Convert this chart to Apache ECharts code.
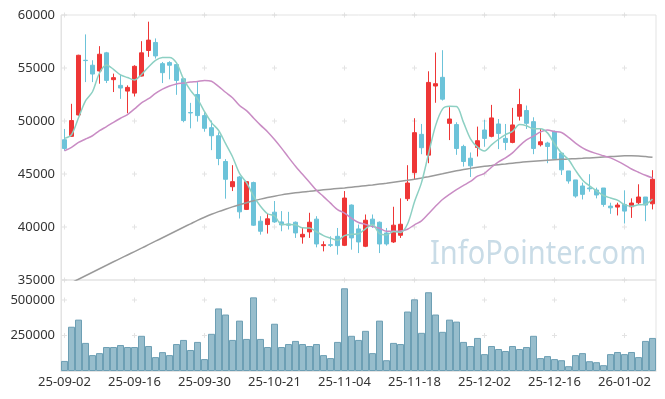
<!DOCTYPE html>
<html>
<head>
<meta charset="utf-8">
<script src="https://cdn.jsdelivr.net/npm/echarts@6/dist/echarts.min.js"></script>
<style>
  html, body { margin: 0; padding: 0; background: #fff; }
  #chart { width: 665px; height: 399px; }
</style>
</head>
<body>
<div id="chart"></div>
<script>
const dates = [
  '25-09-02','25-09-03','25-09-04','25-09-05','25-09-08','25-09-09','25-09-10','25-09-11','25-09-12','25-09-15',
  '25-09-16','25-09-17','25-09-18','25-09-19','25-09-22','25-09-23','25-09-24','25-09-25','25-09-26','25-09-29',
  '25-09-30','25-10-01','25-10-02','25-10-10','25-10-13','25-10-14','25-10-15','25-10-16','25-10-17','25-10-20',
  '25-10-21','25-10-22','25-10-23','25-10-24','25-10-27','25-10-28','25-10-29','25-10-30','25-10-31','25-11-03',
  '25-11-04','25-11-05','25-11-06','25-11-07','25-11-10','25-11-11','25-11-12','25-11-13','25-11-14','25-11-17',
  '25-11-18','25-11-19','25-11-20','25-11-21','25-11-24','25-11-25','25-11-26','25-11-27','25-11-28','25-12-01',
  '25-12-02','25-12-03','25-12-04','25-12-05','25-12-08','25-12-09','25-12-10','25-12-11','25-12-12','25-12-15',
  '25-12-16','25-12-17','25-12-18','25-12-19','25-12-22','25-12-23','25-12-24','25-12-26','25-12-29','25-12-30',
  '26-01-02','26-01-05','26-01-06','26-01-07','26-01-08'
];

const openP = [
  48230,48550,50570,55730,55260,54720,56430,53900,53360,52820,
  52630,54240,56650,57410,55410,55510,55320,53990,50800,52500,
  50510,49370,48610,46180,43800,44720,41660,44190,40550,40230,
  41400,40480,40290,40450,39060,39540,40740,38240,38330,39120,
  38270,42070,39820,38180,40740,40450,39440,38590,39220,42670,
  45130,48740,46780,53300,54120,49780,49660,47600,46490,47510,
  49150,48550,49720,48360,47980,50450,50990,49940,47760,47920,
  49020,46970,45290,44440,43870,43680,43490,43680,41970,41880,
  42130,41910,42290,42830,42190
];
const closeP = [
  47410,50040,56200,55700,54430,56300,53830,54090,53110,53170,
  55160,56430,57630,56140,54560,55260,53830,50040,50760,50510,
  49310,48610,46460,44500,44280,41430,44280,40170,39600,40770,
  40480,40200,40170,39440,39310,40450,38400,38330,38270,38240,
  42730,38970,38590,40640,40230,38400,38400,40170,40260,44150,
  48900,47480,53640,53520,52060,50190,47410,46180,45770,48140,
  48360,50290,48830,47980,49630,51550,49780,47410,48040,47600,
  46430,45390,44340,42920,43080,43600,43020,42130,41810,42070,
  41500,42260,42830,42070,44500
];
const lowP = [
  47190,48500,50500,53670,53670,53520,53580,52730,52090,50730,
  52310,54200,56050,55890,53580,53930,52470,49880,49310,49940,
  48990,47250,45830,42670,43390,40800,41600,40100,39280,39380,
  40390,39600,39760,38970,38430,38970,38080,37700,38110,37390,
  38200,37860,37540,38100,39910,37540,38240,38500,38970,42450,
  44500,46870,46020,51720,51930,48200,46810,45700,44720,46650,
  47570,48460,47350,47250,47900,50040,49250,46870,47600,46020,
  46340,44910,44090,42760,42600,43330,42700,41910,41240,41090,
  40330,40860,42070,40550,41660
];
const highP = [
  49250,51620,56250,58170,55730,57060,56520,54470,54370,53360,
  55260,57530,59370,57790,55570,55640,55410,54050,51710,53670,
  50830,50040,48930,46400,45830,44820,44340,44280,41020,41240,
  42450,41500,41430,40520,39920,41340,41020,38650,39120,39910,
  43390,42130,40230,41180,41180,40520,39910,41910,42700,45830,
  50260,49720,54690,56460,56680,51300,49880,47760,47030,49470,
  50100,51520,50190,49720,51240,53040,51460,50350,49250,48040,
  49090,47030,45290,44440,44190,44980,43710,43680,42290,42290,
  43460,42700,44030,42830,45360
];
const volumes = [
  71000,312000,362000,198000,112000,126000,169000,169000,183000,169000,
  169000,248000,176000,98000,133000,112000,190000,219000,148000,205000,
  84000,262000,441000,398000,219000,355000,226000,519000,226000,169000,
  333000,169000,190000,212000,190000,176000,190000,112000,91000,205000,
  583000,248000,219000,283000,126000,355000,76000,198000,190000,419000,
  505000,269000,555000,398000,276000,362000,348000,205000,176000,233000,
  119000,176000,155000,141000,176000,155000,169000,248000,91000,105000,
  84000,76000,34000,112000,126000,69000,62000,41000,119000,134000,
  119000,134000,98000,212000,233000
];
const ma5 = [
  48360,48700,50300,51900,52760,54530,55290,54870,54350,54100,
  53870,54390,55100,55710,55980,56000,55480,53970,52890,52080,
  50890,49850,49130,47880,46630,45060,44190,42930,41950,41250,
  41060,40240,40240,40210,39920,39910,39550,39190,38950,38740,
  39190,39310,39360,39830,40230,39370,39250,39570,39490,40280,
  42380,44190,46890,49540,51120,51380,51360,49870,48320,47540,
  47170,47750,48280,48720,49020,49660,49550,49270,49280,48880,
  47850,46970,46360,45340,44440,43880,43410,42970,42740,42530,
  42110,41950,42090,42150,42630
];
const ma20 = [
  47190,47510,47980,48300,48610,49090,49470,49880,50260,50610,
  51140,51710,52100,52600,53000,53300,53500,53580,53670,53730,
  53830,53750,53270,52710,52200,51460,50980,50280,49610,48990,
  48250,47440,46570,45730,44970,44230,43460,42870,42250,41640,
  41310,40820,40430,40240,40040,39880,39590,39590,39620,39790,
  40210,40580,41250,41950,42590,43080,43530,43920,44300,44790,
  45070,45640,46150,46520,46990,47650,48210,48580,48970,49140,
  49010,48910,48450,47920,47470,47140,46920,46720,46520,46220,
  45870,45470,45170,44880,44620
];
const ma120 = [
  34400,34740,35070,35400,35730,36060,36390,36720,37040,37360,
  37680,38000,38330,38660,38990,39320,39650,39980,40300,40620,
  40920,41200,41450,41680,41900,42100,42290,42470,42630,42780,
  42910,43030,43130,43220,43300,43370,43440,43510,43570,43630,
  43690,43760,43830,43900,43970,44050,44130,44220,44310,44400,
  44500,44620,44750,44890,45030,45170,45300,45420,45530,45630,
  45720,45800,45880,45950,46020,46090,46150,46200,46250,46300,
  46340,46380,46420,46450,46480,46520,46560,46600,46640,46680,
  46710,46730,46700,46640,46570
];

const priceTicks = [35000, 40000, 45000, 50000, 55000, 60000];
const volTicks = [250000, 500000];
const gridCols = [0, 10, 20, 30, 40, 50, 60, 70, 80];

const fontFamily = 'Noto Sans';
const upColor = '#ee3636';
const downColor = '#6cc3d9';
const lineGrey = '#e3e3e3';

const candleData = dates.map((d, i) => [openP[i], closeP[i], lowP[i], highP[i]]);
const priceCrosses = [];
gridCols.forEach(c => priceTicks.forEach(v => priceCrosses.push([c, v])));
const volCrosses = [];
gridCols.forEach(c => volTicks.forEach(v => volCrosses.push([c, v])));

// small "+" marks at grid intersections instead of full grid lines
const crossSymbol = 'path://M2,0H3V2H5V3H3V5H2V3H0V2H2Z';

var chart = echarts.init(document.getElementById('chart'));

const option = {
  animation: false,
  backgroundColor: '#fff',
  textStyle: { fontFamily: fontFamily },
  grid: [
    { left: 61, right: 9, top: 15, height: 265, show: true, borderColor: lineGrey, borderWidth: 1 },
    { left: 61, right: 9, top: 280, height: 91, show: true, borderColor: lineGrey, borderWidth: 1 }
  ],
  graphic: [{
    type: 'text',
    left: 430,
    top: 239,
    z: 0,
    scaleY: 1.1,
    style: {
      text: 'InfoPointer.com',
      font: '29px "Noto Sans"',
      fill: '#c9dce7'
    }
  }],
  xAxis: [
    {
      type: 'category', gridIndex: 0, data: dates, boundaryGap: true,
      axisLine: { show: false }, axisTick: { show: false }, axisLabel: { show: false },
      splitLine: { show: false }
    },
    {
      type: 'category', gridIndex: 1, data: dates, boundaryGap: true,
      axisLine: { lineStyle: { color: lineGrey } }, axisTick: { show: false },
      axisLabel: { interval: 9, color: '#333', fontSize: 13, margin: 5 },
      splitLine: { show: false }
    }
  ],
  yAxis: [
    {
      type: 'value', gridIndex: 0, min: 35000, max: 60000, interval: 5000,
      axisLine: { show: true, lineStyle: { color: lineGrey } }, axisTick: { show: false },
      splitLine: { show: false },
      axisLabel: { color: '#333', fontSize: 13, margin: 6, formatter: v => String(v) }
    },
    {
      type: 'value', gridIndex: 1, min: 0, max: v => v.max * 1.1, interval: 250000,
      axisLine: { show: true, lineStyle: { color: lineGrey } }, axisTick: { show: false },
      splitLine: { show: false },
      axisLabel: { color: '#333', fontSize: 13, margin: 6, showMinLabel: false, showMaxLabel: false,
        formatter: v => String(v) }
    }
  ],
  series: [
    {
      type: 'scatter', xAxisIndex: 0, yAxisIndex: 0, data: priceCrosses, silent: true,
      symbol: crossSymbol, symbolSize: 5, itemStyle: { color: '#dcdcdc' }, z: 1
    },
    {
      type: 'scatter', xAxisIndex: 1, yAxisIndex: 1, data: volCrosses, silent: true,
      symbol: crossSymbol, symbolSize: 5, itemStyle: { color: '#dcdcdc' }, z: 1
    },
    {
      type: 'candlestick', xAxisIndex: 0, yAxisIndex: 0, data: candleData, barWidth: 5,
      itemStyle: { color: upColor, color0: downColor, borderColor: upColor, borderColor0: downColor, borderWidth: 1 },
      z: 3
    },
    {
      type: 'line', xAxisIndex: 0, yAxisIndex: 0, data: ma120, smooth: 0.3, showSymbol: false,
      lineStyle: { color: '#9a9a9a', width: 1.5 }, z: 4
    },
    {
      type: 'line', xAxisIndex: 0, yAxisIndex: 0, data: ma20, smooth: 0.3, showSymbol: false,
      lineStyle: { color: '#c98cc4', width: 1.5 }, z: 4
    },
    {
      type: 'line', xAxisIndex: 0, yAxisIndex: 0, data: ma5, smooth: 0.3, showSymbol: false,
      lineStyle: { color: '#8dd0c3', width: 1.5 }, z: 4
    },
    {
      type: 'bar', xAxisIndex: 1, yAxisIndex: 1, data: volumes, barCategoryGap: '0%',
      itemStyle: { color: '#97bdcc', borderColor: '#6d9fb4', borderWidth: 1 }, z: 2
    }
  ]
};

chart.setOption(option);
</script>
</body>
</html>
